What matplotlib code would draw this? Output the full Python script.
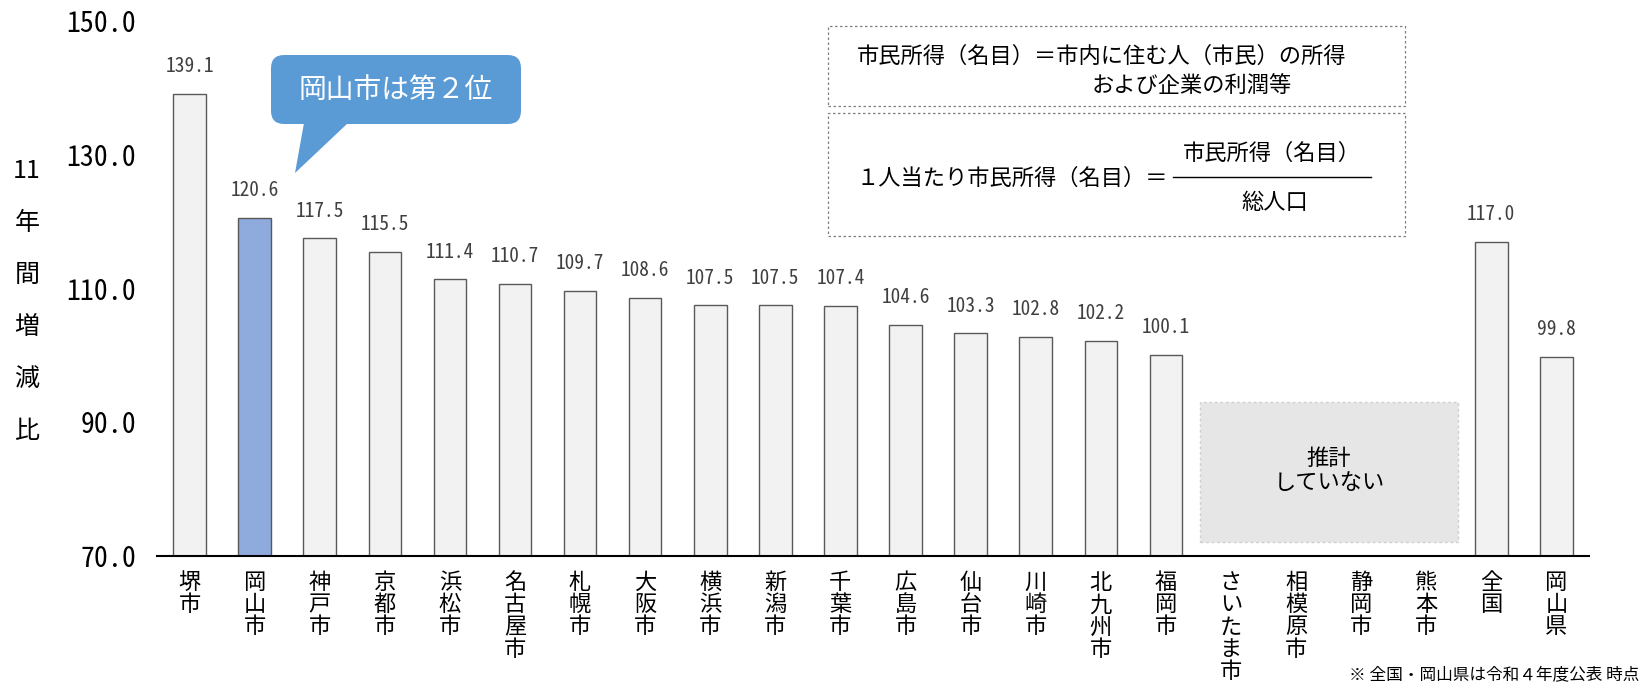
import matplotlib
matplotlib.use("Agg")
import matplotlib.pyplot as plt
from matplotlib.patches import FancyBboxPatch, Polygon, Rectangle
from matplotlib.lines import Line2D
import numpy as np

plt.rcParams['font.family'] = ['Noto Sans CJK JP', 'DejaVu Sans']

cities = ["堺市", "岡山市", "神戸市", "京都市", "浜松市", "名古屋市", "札幌市", "大阪市",
          "横浜市", "新潟市", "千葉市", "広島市", "仙台市", "川崎市", "北九州市", "福岡市",
          "さいたま市", "相模原市", "静岡市", "熊本市", "全国", "岡山県"]
ratio = [139.1, 120.6, 117.5, 115.5, 111.4, 110.7, 109.7, 108.6, 107.5, 107.5, 107.4,
         104.6, 103.3, 102.8, 102.2, 100.1, None, None, None, None, 117.0, 99.8]
yticks = [70, 90, 110, 130, 150]
highlight = "岡山市"
no_estimate = ["さいたま市", "相模原市", "静岡市", "熊本市"]

num_font = ['Noto Sans Mono CJK JP', 'DejaVu Sans']

W, H = 1645, 688
def fx(px):
    return px / W
def fy(py):
    return 1 - py / H

fig = plt.figure(figsize=(W / 100, H / 100), dpi=100)
ax = fig.add_axes([fx(157), fy(556), (1589 - 157) / W, (556 - 21) / H])

x = np.arange(len(cities))
for i, (name, v) in enumerate(zip(cities, ratio)):
    if v is None:
        continue
    col = "#8FAADC" if name == highlight else "#F2F2F2"
    ax.bar(i, v - 70, bottom=70, width=0.5, color=col, edgecolor="#595959", linewidth=1, zorder=2)
    ax.annotate(f"{v:.1f}", (i, v), xytext=(0, 19.5), textcoords="offset points",
                ha="center", va="center", fontsize=14, color="#404040", family=num_font)

for i, name in enumerate(cities):
    ax.annotate("\n".join(name), (i, 70), xytext=(0, -11), textcoords="offset points",
                ha="center", va="top", fontsize=16, linespacing=0.95, color="black")

# region with no estimate
idx = [cities.index(c) for c in no_estimate]
x0, x1 = idx[0] - 0.47, idx[-1] + 0.48
ax.add_patch(Rectangle((x0, 72.1), x1 - x0, 93.0 - 72.1, facecolor="#E6E6E6",
                       edgecolor="#D0D0D0", linestyle=(0, (2, 2)), linewidth=1, zorder=1))
ax.text((x0 + x1) / 2, 82.8, "推計\nしていない", ha="center", va="center", fontsize=16,
        linespacing=1.05)

ax.set_xlim(-0.5, len(cities) - 0.5)
ax.set_ylim(70, 150)
ax.set_yticks(yticks)
ax.set_yticklabels([f"{t:.1f}" for t in yticks], family=num_font, fontsize=20)
ax.tick_params(axis="y", length=0, pad=15)
ax.set_xticks([])
for s in ["top", "right", "left"]:
    ax.spines[s].set_visible(False)
ax.spines["bottom"].set_linewidth(1.5)
ax.spines["bottom"].set_color("black")

# y label
fig.text(fx(27), fy(301), "11\n年\n間\n増\n減\n比", ha="center", va="center",
         fontsize=18, linespacing=2.3)

# callout
fig.patches.append(FancyBboxPatch((fx(271), fy(124)), fx(521) - fx(271), fy(55) - fy(124),
                                  boxstyle="round,pad=0,rounding_size=0.008",
                                  transform=fig.transFigure, facecolor="#5B9BD5",
                                  edgecolor="none", mutation_aspect=W / H))
fig.patches.append(Polygon([(fx(304), fy(123)), (fx(348), fy(123)), (fx(295), fy(173))],
                           closed=True, transform=fig.transFigure, facecolor="#5B9BD5",
                           edgecolor="none"))
fig.text(fx(396), fy(90), "岡山市は第２位", ha="center", va="center", fontsize=20, color="white")

# definition boxes
for top, bot in [(26, 106), (113, 236)]:
    fig.patches.append(Rectangle((fx(828), fy(bot)), fx(1405) - fx(828), fy(top) - fy(bot),
                                 transform=fig.transFigure, facecolor="white",
                                 edgecolor="#7F7F7F", linestyle=(0, (2, 2)), linewidth=0.9))
fig.text(fx(857), fy(56), "市民所得（名目）＝市内に住む人（市民）の所得", ha="left", va="center",
         fontsize=16)
fig.text(fx(1292), fy(86), "および企業の利潤等", ha="right", va="center", fontsize=16)
fig.text(fx(857), fy(178), "１人当たり市民所得（名目）＝", ha="left", va="center", fontsize=16)
fig.text(fx(1272), fy(153), "市民所得（名目）", ha="center", va="center", fontsize=16)
fig.lines.append(Line2D([fx(1173), fx(1371)], [fy(177), fy(177)], transform=fig.transFigure,
                        color="black", linewidth=1))
fig.text(fx(1275), fy(202), "総人口", ha="center", va="center", fontsize=16)

fig.text(fx(1639), fy(675), "※ 全国・岡山県は令和４年度公表 時点", ha="right", va="center",
         fontsize=12)

fig.savefig("out.png", dpi=100)
